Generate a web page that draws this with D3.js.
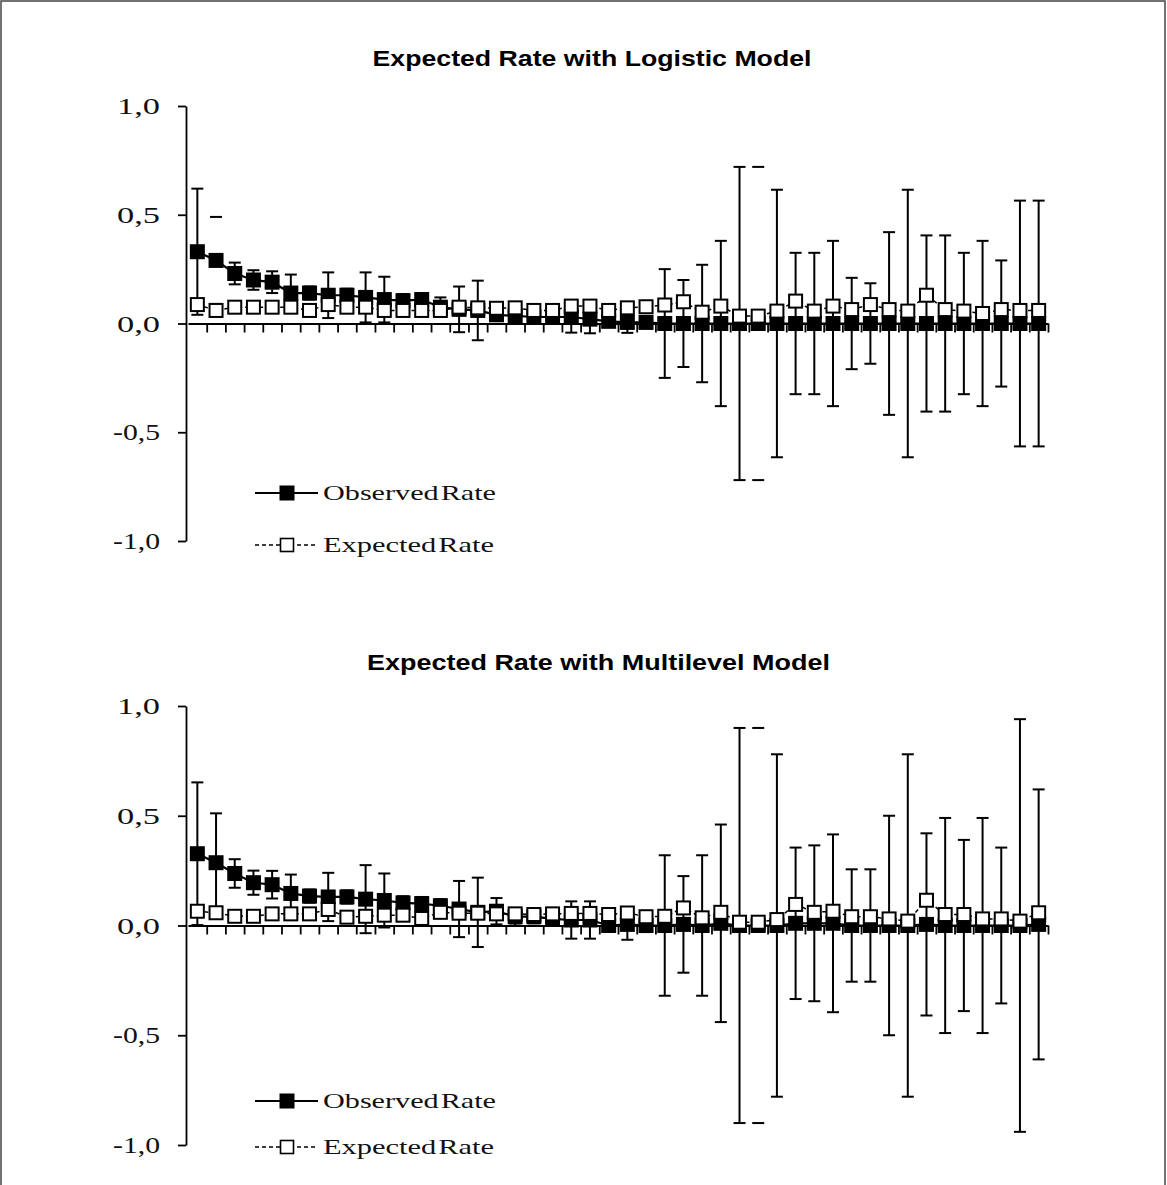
<!DOCTYPE html>
<html><head><meta charset="utf-8">
<script src="https://cdn.jsdelivr.net/npm/d3@7"></script>
<style>body{margin:0;background:#fff} svg{display:block}</style>
</head><body><svg id="c" width="1167" height="1185"></svg>
<script>
// ---- data ----
const categories = [1,2,3,4,5,6,7,8,9,10,11,12,13,14,15,16,17,18,19,20,21,22,23,24,25,26,27,28,29,30,31,32,33,34,35,36,37,38,39,40,41,42,43,44,45,46];

const logisticObserved = [0.33,0.29,0.23,0.20,0.19,0.14,0.14,0.13,0.13,0.12,
  0.11,0.105,0.11,0.075,0.065,0.06,0.04,0.035,0.03,0.03,
  0.03,0.02,0.01,0.005,0.005,0,0,0,0,0,
  0,0,0,0,0,0,0,0,0,0,
  0,0,0,0,0,0];
const logisticExpected = [0.087,0.06,0.075,0.075,0.075,0.075,0.06,0.087,0.075,0.075,
  0.06,0.06,0.06,0.06,0.075,0.072,0.07,0.072,0.06,0.06,
  0.08,0.08,0.06,0.072,0.077,0.085,0.10,0.052,0.08,0.034,
  0.034,0.057,0.103,0.057,0.08,0.064,0.087,0.064,0.057,0.13,
  0.064,0.057,0.046,0.064,0.06,0.06];
const logisticError = [0.29,0.20,0.05,0.045,0.05,0.085,0.03,0.105,0.03,0.115,
  0.105,0.03,0.03,0.045,0.105,0.137,0.025,0.035,0.03,0.03,
  0.072,0.065,0.02,0.048,0.02,0.25,0.20,0.27,0.38,0.72,
  0.72,0.615,0.325,0.325,0.38,0.21,0.185,0.42,0.615,0.405,
  0.405,0.325,0.38,0.29,0.565,0.565];
const logisticCapsOnly = [1,30];

const multilevelObserved = [0.327,0.286,0.237,0.195,0.186,0.146,0.134,0.13,0.13,0.12,
  0.114,0.103,0.10,0.09,0.075,0.06,0.065,0.04,0.04,0.03,
  0.025,0.025,0,0.005,0,0,0.005,0,0.01,0,
  0,0,0.01,0.01,0.01,0,0,0,0,0.005,
  0,0,0,0,0,0.005];
const multilevelExpected = [0.065,0.058,0.042,0.042,0.053,0.053,0.053,0.073,0.038,0.042,
  0.047,0.047,0.032,0.06,0.056,0.056,0.053,0.053,0.05,0.053,
  0.055,0.055,0.05,0.057,0.04,0.042,0.08,0.035,0.06,0.015,
  0.015,0.027,0.096,0.06,0.065,0.04,0.04,0.03,0.02,0.115,
  0.05,0.05,0.03,0.03,0.02,0.058];
const multilevelError = [0.325,0.225,0.065,0.055,0.063,0.086,0.03,0.11,0.03,0.155,
  0.123,0.03,0.03,0.03,0.128,0.158,0.06,0.04,0.03,0.03,
  0.085,0.085,0.02,0.07,0.03,0.32,0.22,0.32,0.45,0.9,
  0.9,0.78,0.345,0.355,0.405,0.256,0.256,0.5,0.78,0.415,
  0.49,0.39,0.49,0.355,0.94,0.615];
const multilevelCapsOnly = [30];

const yTicks = [-1, -0.5, 0, 0.5, 1];
const yTickLabels = ["-1,0", "-0,5", "0,0", "0,5", "1,0"];
const seriesNames = ["Observed Rate", "Expected Rate"];
const titles = ["Expected Rate with Logistic Model", "Expected Rate with Multilevel Model"];

// ---- layout ----
const panels = [
  {title: titles[0], obs: logisticObserved, exp: logisticExpected, err: logisticError, capsOnly: logisticCapsOnly,
   top: 106, bottom: 541, titleX: 592, titleY: 66, titleLen: 439, legendY: [493, 545]},
  {title: titles[1], obs: multilevelObserved, exp: multilevelExpected, err: multilevelError, capsOnly: multilevelCapsOnly,
   top: 706, bottom: 1145, titleX: 598.5, titleY: 670, titleLen: 463, legendY: [1101, 1147]}
];

const svg = d3.select("#c");
svg.append("rect").attr("x", 1).attr("y", 1).attr("width", 1164).attr("height", 1210)
  .attr("fill", "none").attr("stroke", "#444").attr("stroke-width", 1.5);

const x = d3.scaleLinear().domain([0, categories.length]).range([188, 1048]);
const cx = i => x(i + 0.5);
const serif = "'Liberation Serif','Times New Roman',serif";
const sans = "'Liberation Sans',Arial,sans-serif";
const M = 15; // marker size

panels.forEach(p => {
  const y = d3.scaleLinear().domain([-1, 1]).range([p.bottom, p.top]);
  const g = svg.append("g");

  g.append("text").attr("x", p.titleX).attr("y", p.titleY).attr("text-anchor", "middle")
    .attr("font-family", sans).attr("font-weight", "bold").attr("font-size", 22)
    .attr("textLength", p.titleLen).attr("lengthAdjust", "spacingAndGlyphs").text(p.title);

  // y axis
  const ya = g.append("g").attr("transform", "translate(186,0)")
    .call(d3.axisLeft(y).tickValues(yTicks).tickSize(8).tickSizeOuter(0).tickPadding(18)
      .tickFormat((d, i) => yTickLabels[i]));
  ya.selectAll("path,line").attr("stroke", "#000").attr("stroke-width", 1.8);
  ya.selectAll("text").attr("font-family", serif).attr("font-size", 24).attr("fill", "#111")
    .attr("textLength", d => d < 0 ? 47 : 43).attr("lengthAdjust", "spacingAndGlyphs");

  // x axis
  const xa = g.append("g").attr("transform", `translate(0,${y(0)})`)
    .call(d3.axisBottom(x).tickValues(d3.range(1, categories.length + 1)).tickSize(9).tickSizeOuter(0).tickFormat(""));
  xa.selectAll("path,line").attr("stroke", "#000").attr("stroke-width", 1.8);

  // error bars
  const eb = g.append("g").attr("stroke", "#000").attr("stroke-width", 2);
  p.obs.forEach((v, i) => {
    const x0 = cx(i), hi = y(v + p.err[i]), lo = y(v - p.err[i]);
    if (!p.capsOnly.includes(i)) eb.append("line").attr("x1", x0).attr("x2", x0).attr("y1", hi).attr("y2", lo);
    eb.append("line").attr("x1", x0 - 6).attr("x2", x0 + 6).attr("y1", hi).attr("y2", hi);
    eb.append("line").attr("x1", x0 - 6).attr("x2", x0 + 6).attr("y1", lo).attr("y2", lo);
  });

  const line = d3.line().x((d, i) => cx(i)).y(d => y(d));
  g.append("path").datum(p.obs).attr("d", line).attr("fill", "none").attr("stroke", "#000").attr("stroke-width", 2.2);
  g.selectAll(".obs").data(p.obs).join("rect").attr("class", "obs")
    .attr("x", (d, i) => cx(i) - M / 2).attr("y", d => y(d) - M / 2).attr("width", M).attr("height", M).attr("fill", "#000");

  g.append("path").datum(p.exp).attr("d", line).attr("fill", "none").attr("stroke", "#000")
    .attr("stroke-width", 1.5).attr("stroke-dasharray", "4,3");
  g.selectAll(".exp").data(p.exp).join("rect").attr("class", "exp")
    .attr("x", (d, i) => cx(i) - (M - 2) / 2).attr("y", d => y(d) - (M - 2) / 2)
    .attr("width", M - 2).attr("height", M - 2).attr("fill", "#fff").attr("stroke", "#000").attr("stroke-width", 2);

  // legend
  seriesNames.forEach((name, k) => {
    const ly = p.legendY[k];
    const lg = g.append("g");
    lg.append("line").attr("x1", 255).attr("x2", 318).attr("y1", ly).attr("y2", ly).attr("stroke", "#000")
      .attr("stroke-width", k === 0 ? 2 : 1.5).attr("stroke-dasharray", k === 0 ? null : "4,3");
    if (k === 0) lg.append("rect").attr("x", 287 - M / 2).attr("y", ly - M / 2).attr("width", M).attr("height", M).attr("fill", "#000");
    else lg.append("rect").attr("x", 287 - (M - 2) / 2).attr("y", ly - (M - 2) / 2).attr("width", M - 2).attr("height", M - 2)
      .attr("fill", "#fff").attr("stroke", "#000").attr("stroke-width", 1.6);
    lg.append("text").attr("x", 323).attr("y", ly + 7).attr("font-family", serif).attr("font-size", 22).attr("fill", "#111")
      .attr("word-spacing", -4)
      .attr("textLength", k === 0 ? 173 : 171).attr("lengthAdjust", "spacingAndGlyphs").text(name);
  });
});
</script></body></html>
